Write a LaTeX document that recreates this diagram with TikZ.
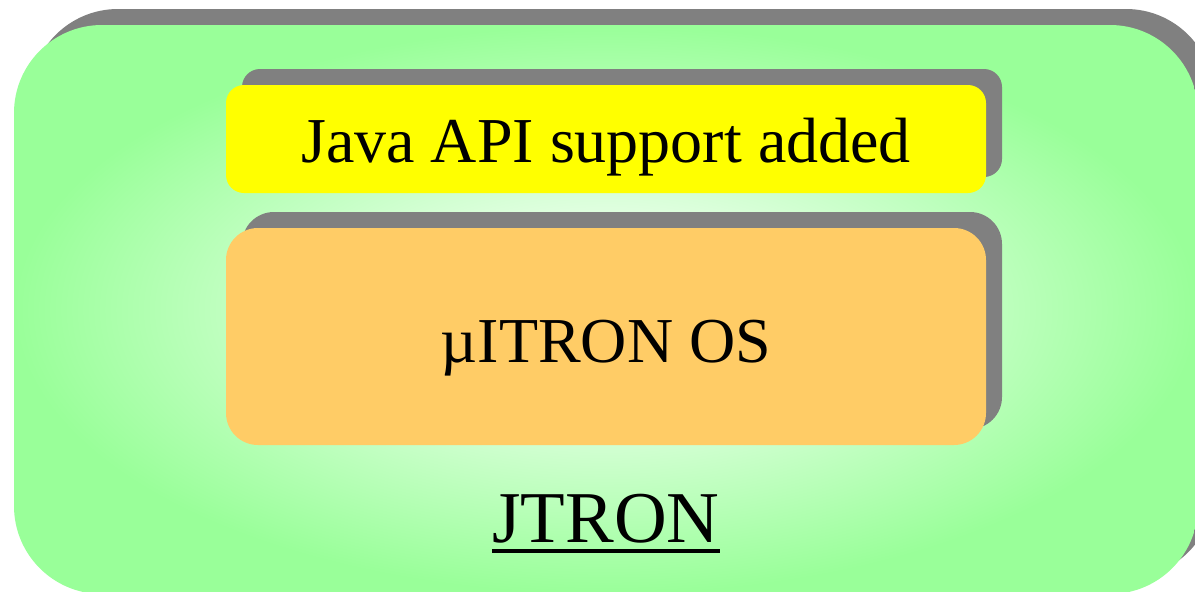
\documentclass[tikz,border=0pt]{standalone}
\usepackage{fontspec}
\setmainfont{Liberation Serif}
\usetikzlibrary{shadows}
\definecolor{gdark}{HTML}{99FF99}
\definecolor{glight}{HTML}{F2FFF2}
\definecolor{gmid}{HTML}{E2FFE2}
\definecolor{shadowgray}{HTML}{808080}
\definecolor{boxyellow}{HTML}{FFFF00}
\definecolor{boxorange}{HTML}{FFCC66}
\pgfdeclareradialshading{greenglow}{\pgfpoint{0bp}{0bp}}{color(0bp)=(glight); color(8bp)=(gmid); color(25bp)=(gdark); color(50bp)=(gdark)}
\tikzset{
  shadowed/.style={drop shadow={shadow xshift=16pt, shadow yshift=16pt, fill=shadowgray, opacity=1}},
  panel/.style={rectangle, inner sep=0pt, outer sep=0pt, shadowed},
  bigtext/.style={font=\fontsize{64}{70}\selectfont, text depth=0pt},
}
\begin{document}
\begin{tikzpicture}[x=1pt, y=-1pt]
\useasboundingbox (0,0) rectangle (1195,592);
\clip (0,0) rectangle (1195,592);
\node[panel, rounded corners=88pt, shading=greenglow, minimum width=1184pt, minimum height=569pt] (outer) at (606,309.5) {};
\node[panel, rounded corners=18pt, fill=boxyellow, minimum width=760pt, minimum height=108pt, bigtext, text height=46pt] (java) at (606,139) {Java API support added};
\node[panel, rounded corners=32pt, fill=boxorange, minimum width=760pt, minimum height=217pt, bigtext, text height=51pt] (itron) at (606,336.5) {µITRON OS};
\node[inner sep=0pt, font=\fontsize{73}{80}\selectfont, anchor=base] (jtron) at (606,542) {JTRON};
\draw[line width=4pt] ([yshift=-9pt]jtron.base west) -- ([yshift=-9pt]jtron.base east);
\end{tikzpicture}
\end{document}
